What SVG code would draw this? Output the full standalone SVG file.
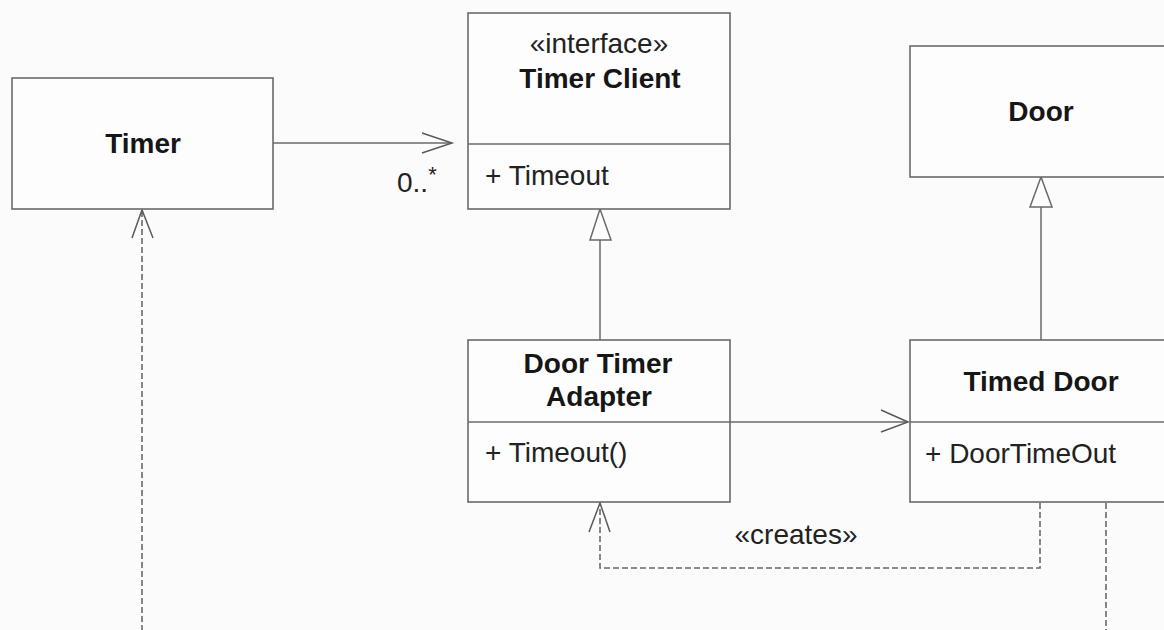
<svg xmlns="http://www.w3.org/2000/svg" width="1164" height="630" viewBox="0 0 1164 630">
<style>
.box{fill:#fdfdfd;stroke:#6a6a6a;stroke-width:1.6}
.div{stroke:#6a6a6a;stroke-width:1.6}
.ln{fill:none;stroke:#6a6a6a;stroke-width:1.5}
.dash{fill:none;stroke:#6a6a6a;stroke-width:1.6;stroke-dasharray:6 3}
.head{fill:none;stroke:#5a5a5a;stroke-width:1.5}
.tri{fill:#fdfdfd;stroke:#6a6a6a;stroke-width:1.5}
.b{font-family:"Liberation Sans",Arial,sans-serif;font-weight:bold;font-size:28px;fill:#161616;text-anchor:middle}
.r{font-family:"Liberation Sans",Arial,sans-serif;font-size:28px;fill:#222}
.c{text-anchor:middle}
</style>
<rect width="1164" height="630" fill="#fbfbfb"/>
<g id="connectors">
  <line class="ln" x1="273" y1="143" x2="452" y2="143"/>
  <polyline class="head" points="422,133 452,143 422,153"/>
  <text class="r" x="397" y="192" font-size="26">0..<tspan dy="-10" font-size="22">*</tspan></text>
  <line class="ln" x1="600" y1="240" x2="600" y2="340"/>
  <polygon class="tri" points="600,209 590,240 611,240"/>
  <line class="ln" x1="1041" y1="207" x2="1041" y2="340"/>
  <polygon class="tri" points="1041,177 1030,207 1052,207"/>
  <line class="ln" x1="730" y1="422" x2="908" y2="422"/>
  <polyline class="head" points="881,410 908,422 881,432"/>
  <polyline class="dash" points="1040,503 1040,568 600,568 600,504"/>
  <polyline class="head" points="589,532 600,503 610,532"/>
  <text class="r c" x="796" y="544">«creates»</text>
  <line class="dash" x1="142" y1="211" x2="142" y2="630"/>
  <polyline class="head" points="132,238 142,210 153,238"/>
  <line class="dash" x1="1106" y1="503" x2="1106" y2="630"/>
</g>
<g id="timer">
  <rect class="box" x="12" y="78" width="261" height="131"/>
  <text class="b" x="143" y="153">Timer</text>
</g>
<g id="timer-client">
  <rect class="box" x="468" y="13" width="262" height="196"/>
  <line class="div" x1="468" y1="144" x2="730" y2="144"/>
  <text class="r c" x="599" y="53">«interface»</text>
  <text class="b" x="600" y="88">Timer Client</text>
  <text class="r" x="485" y="185">+ Timeout</text>
</g>
<g id="door">
  <rect class="box" x="910" y="46" width="270" height="131"/>
  <text class="b" x="1041" y="121">Door</text>
</g>
<g id="door-timer-adapter">
  <rect class="box" x="468" y="340" width="262" height="162"/>
  <line class="div" x1="468" y1="422" x2="730" y2="422"/>
  <text class="b" x="598" y="373">Door Timer</text>
  <text class="b" x="599" y="406">Adapter</text>
  <text class="r" x="485" y="462">+ Timeout()</text>
</g>
<g id="timed-door">
  <rect class="box" x="910" y="340" width="270" height="162"/>
  <line class="div" x1="910" y1="422" x2="1180" y2="422"/>
  <text class="b" x="1041" y="391">Timed Door</text>
  <text class="r" x="925" y="463">+ DoorTimeOut</text>
</g>
</svg>
